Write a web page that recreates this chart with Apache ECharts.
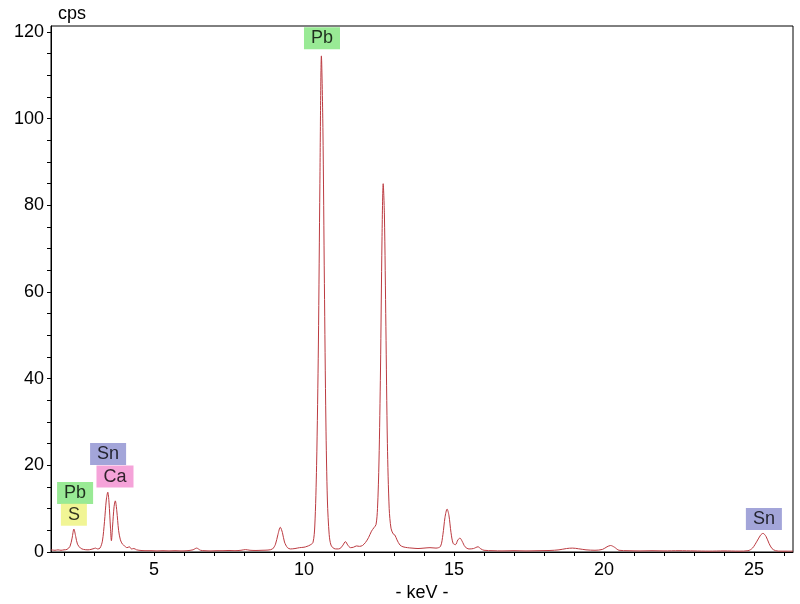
<!DOCTYPE html>
<html>
<head>
<meta charset="utf-8">
<script src="https://cdn.jsdelivr.net/npm/echarts@6/dist/echarts.min.js"></script>
<style>
html,body{margin:0;padding:0;background:#fff;}
#chart{width:800px;height:604px;}
</style>
</head>
<body>
<div id="chart"></div>
<script>
// Spectrum samples: energy (keV) and counts (cps)
const energyKeV = [
1.57,1.7,1.8,1.9,2.0,2.1,2.2,2.27,2.33,2.39,2.45,2.55,2.65,2.8,2.9,3.0,3.05,3.12,3.2,3.28,
3.35,3.41,3.46,3.5,3.55,3.58,3.62,3.67,3.71,3.76,3.82,3.88,3.95,4.02,4.1,4.18,4.25,4.33,4.42,4.5,
4.7,4.9,5.1,5.3,5.5,5.7,5.9,6.1,6.3,6.42,6.55,6.7,6.9,7.1,7.3,7.5,7.7,7.9,8.05,8.2,
8.4,8.6,8.8,8.95,9.05,9.13,9.21,9.28,9.35,9.45,9.55,9.7,9.85,10.0,10.1,10.2,10.3,10.36,10.42,10.48,
10.53,10.58,10.63,10.68,10.73,10.78,10.84,10.9,11.0,11.1,11.2,11.3,11.38,11.46,11.55,11.65,11.75,11.85,11.95,12.05,
12.15,12.25,12.33,12.4,12.45,12.5,12.55,12.6,12.64,12.68,12.73,12.78,12.84,12.9,12.97,13.03,13.1,13.2,13.3,13.45,
13.6,13.8,14.0,14.2,14.4,14.55,14.63,14.7,14.77,14.83,14.9,14.97,15.05,15.13,15.2,15.27,15.37,15.5,15.65,15.8,
15.9,16.0,16.3,16.6,17.0,17.4,17.8,18.2,18.5,18.75,18.95,19.15,19.4,19.7,19.95,20.1,20.22,20.35,20.5,20.8,
21.2,21.6,22.0,22.5,23.0,23.5,24.0,24.5,24.8,24.95,25.1,25.22,25.3,25.4,25.5,25.6,25.72,25.9,26.1,26.3
];
const countsCps = [
0.5,0.4,0.5,0.4,0.5,0.6,1.3,3.2,5.3,3.6,1.8,0.9,0.6,0.5,0.6,0.8,0.9,0.7,0.9,2.5,
7.0,12.0,13.8,11.5,5.5,2.6,6.0,10.5,11.8,9.5,5.0,2.8,1.8,1.4,1.0,1.2,0.7,0.8,0.5,0.4,
0.3,0.3,0.25,0.3,0.25,0.3,0.25,0.3,0.5,0.9,0.4,0.3,0.25,0.3,0.3,0.35,0.3,0.4,0.55,0.4,
0.35,0.4,0.45,0.7,1.8,4.0,5.7,4.5,2.3,1.0,0.7,0.8,1.0,1.1,1.3,1.6,2.2,6.0,20,48,
85,114.5,98,62,30,12,4,1.6,0.8,0.7,0.8,1.6,2.4,1.6,1.0,1.1,1.4,1.3,1.5,2.2,
3.3,4.8,5.6,6.3,10,21,42,72,85,78,52,25,10,5.5,4.2,3.9,2.8,1.6,1.2,1.0,
0.9,0.8,0.9,1.0,0.9,1.3,4.0,8.0,9.9,8.5,4.5,2.0,1.7,2.8,3.2,2.5,1.2,0.7,0.8,1.2,
0.7,0.4,0.3,0.25,0.3,0.25,0.3,0.35,0.5,0.8,0.9,0.75,0.5,0.4,0.6,1.2,1.5,1.1,0.4,0.3,
0.25,0.3,0.25,0.3,0.25,0.2,0.25,0.2,0.3,0.9,2.5,3.9,4.3,3.6,2.0,0.8,0.3,0.2,0.2,0.2
];

// Element annotations: text, keV, cps (label centre), box colour
const peakNames  = ['Pb', 'Sn', 'Ca', 'Pb', 'S', 'Sn'];
const peakKeV    = [10.6, 3.47, 3.70, 2.37, 2.33, 25.33];
const peakCps    = [118.6, 22.6, 17.4, 13.6, 8.6, 7.6];
const peakColors = ['#7fe57a', '#8c8fd0', '#f28ccf', '#7fe57a', '#eef27a', '#8c8fd0'];

// Axis ticks
const xTickValues = [2,3,4,5,6,7,8,9,10,11,12,13,14,15,16,17,18,19,20,21,22,23,24,25,26];
const xLabelValues = [5,10,15,20,25];
const yTickValues = [0,5,10,15,20,25,30,35,40,45,50,55,60,65,70,75,80,85,90,95,100,105,110,115,120];
const yLabelValues = [0,20,40,60,80,100,120];

const spectrum = energyKeV.map((e, i) => [e, countsCps[i]]);
const annotations = peakNames.map((n, i) => ({
  value: [peakKeV[i], peakCps[i]],
  name: n,
  label: { backgroundColor: peakColors[i] }
}));

const FONT = 'Liberation Sans, Arial, sans-serif';
const chart = echarts.init(document.getElementById('chart'), null, { renderer: 'canvas' });
chart.setOption({
  animation: false,
  backgroundColor: '#ffffff',
  grid: { left: 51, right: 7, top: 26, bottom: 52, show: true, borderColor: '#000', borderWidth: 1, containLabel: false, outerBoundsMode: 'none' },
  xAxis: {
    type: 'value', min: 1.567, max: 26.3,
    name: '- keV -', nameLocation: 'middle', nameGap: 31,
    nameTextStyle: { color: '#000', fontSize: 18, fontFamily: FONT },
    axisLine: { show: true, lineStyle: { color: '#000', width: 1 } },
    axisTick: { show: true, inside: false, length: 4, customValues: xTickValues, lineStyle: { color: '#000' } },
    axisLabel: { customValues: xLabelValues, color: '#000', fontSize: 18, fontFamily: FONT, margin: 9 },
    splitLine: { show: false }
  },
  yAxis: {
    type: 'value', min: 0, max: 121.4,
    name: 'cps', nameLocation: 'end', nameGap: 3,
    nameTextStyle: { color: '#000', fontSize: 18, fontFamily: FONT, align: 'left', verticalAlign: 'bottom', padding: [0, 0, 0, 7] },
    axisLine: { show: true, lineStyle: { color: '#000', width: 1 } },
    axisTick: { show: true, inside: false, length: 4, customValues: yTickValues, lineStyle: { color: '#000' } },
    axisLabel: { customValues: yLabelValues, color: '#000', fontSize: 18, fontFamily: FONT, margin: 7 },
    splitLine: { show: false }
  },
  series: [
    {
      type: 'line', data: spectrum, showSymbol: false, smooth: 0.3,
      lineStyle: { color: '#bb3a40', width: 1 },
      z: 2
    },
    {
      type: 'scatter', data: annotations, symbolSize: 1,
      itemStyle: { color: 'rgba(0,0,0,0)' },
      label: {
        show: true, position: 'inside', formatter: '{b}',
        color: '#000', fontSize: 18, fontFamily: FONT,
        lineHeight: 18, padding: [2, 7, 2, 7]
      },
      z: 5
    }
  ]
});
</script>
</body>
</html>
